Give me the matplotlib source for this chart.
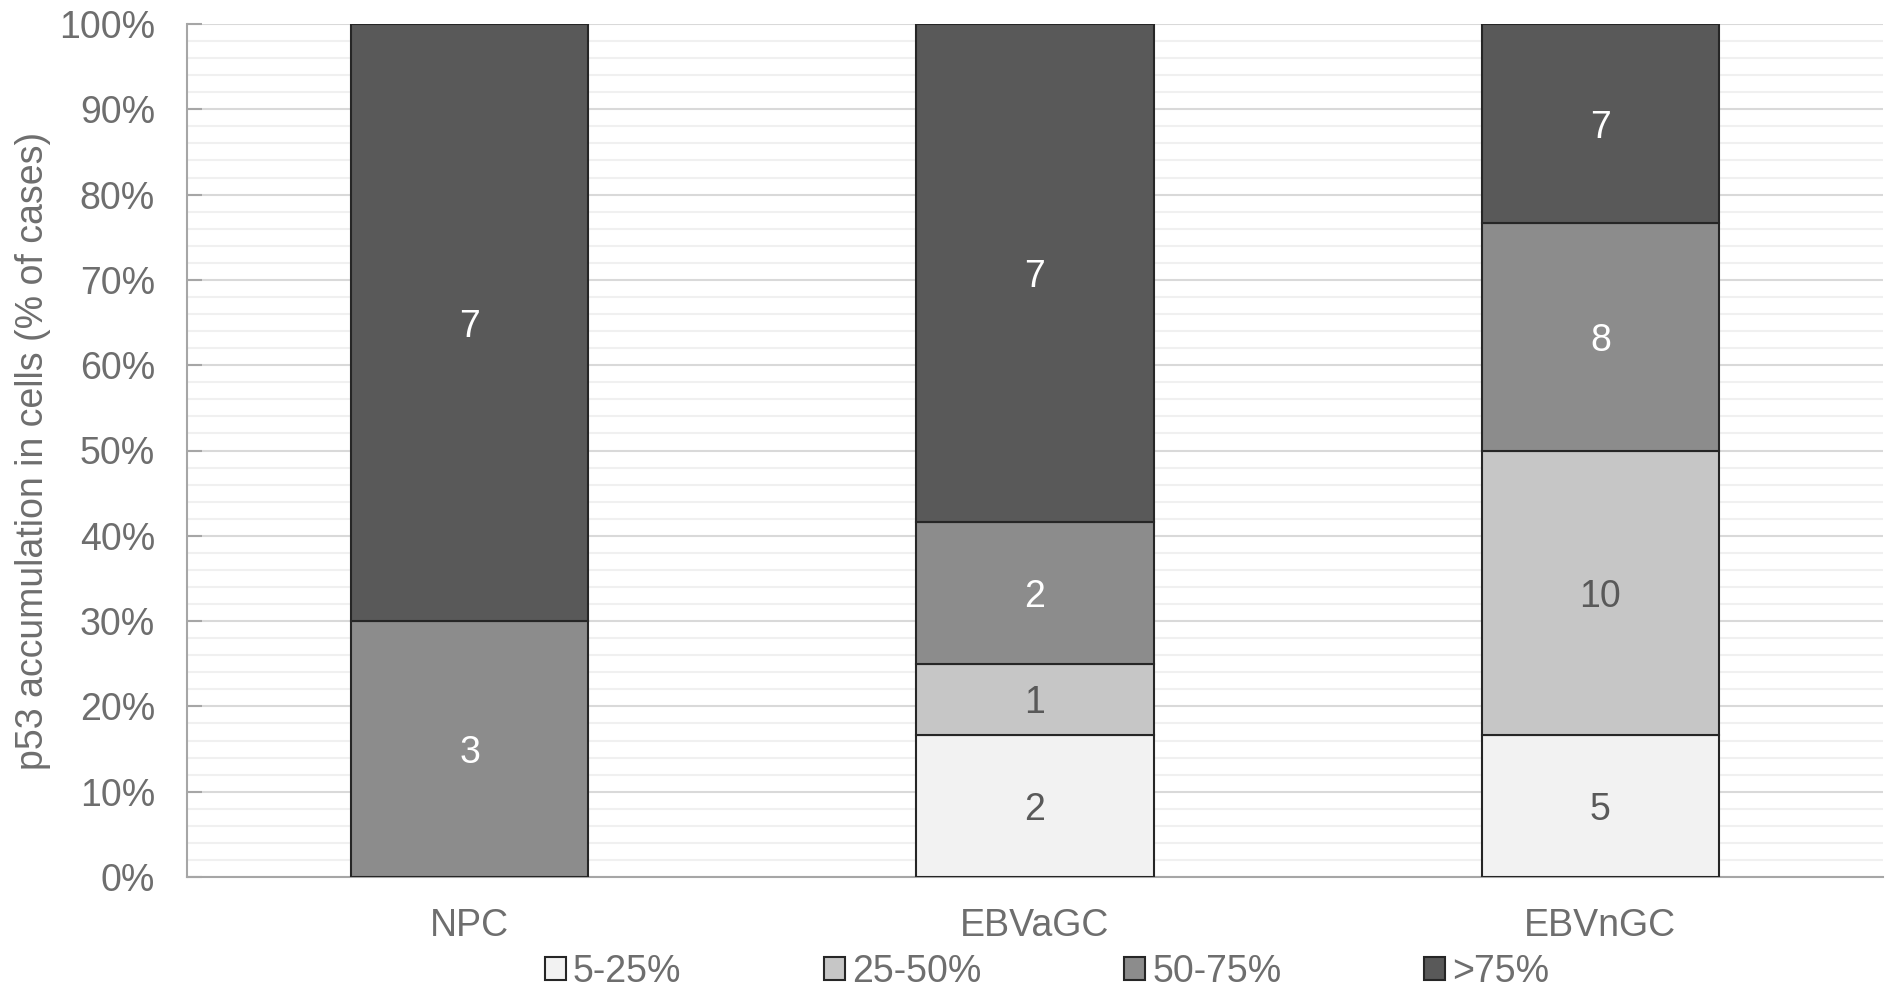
import matplotlib
matplotlib.use("Agg")
import matplotlib.pyplot as plt
from matplotlib.ticker import MultipleLocator, PercentFormatter
from matplotlib.patches import Patch
import numpy as np

plt.rcParams['font.family'] = ['Liberation Sans', 'DejaVu Sans']

categories = ["NPC", "EBVaGC", "EBVnGC"]
series_names = ["5-25%", "25-50%", "50-75%", ">75%"]
counts_5_25 = [0, 2, 5]
counts_25_50 = [0, 1, 10]
counts_50_75 = [3, 2, 8]
counts_gt75 = [7, 7, 7]

colors = ["#f2f2f2", "#c6c6c6", "#8c8c8c", "#595959"]
label_colors = ["#595959", "#595959", "white", "white"]
text_gray = "#6e6e6e"
fs = 27

counts = np.array([counts_5_25, counts_25_50, counts_50_75, counts_gt75], dtype=float)
totals = counts.sum(axis=0)
pct = counts / totals * 100

fig = plt.figure(figsize=(18.89, 9.91), dpi=100)
ax = fig.add_axes([187 / 1889, 1 - 877 / 991, 1696 / 1889, 853 / 991])

x = np.arange(len(categories))
bottom = np.zeros(len(categories))
for i, name in enumerate(series_names):
    vals = pct[i]
    ax.bar(x, vals, width=0.42, bottom=bottom, color=colors[i],
           edgecolor="#262626", linewidth=1.5, label=name, zorder=3)
    for j in range(len(categories)):
        if counts[i, j] > 0:
            ax.text(x[j], bottom[j] + vals[j] / 2, f"{int(counts[i, j])}",
                    ha="center", va="center_baseline", fontsize=fs,
                    color=label_colors[i], zorder=4)
    bottom += vals

ax.set_xlim(-0.5, len(categories) - 0.5)
ax.set_ylim(0, 100)
ax.yaxis.set_major_locator(MultipleLocator(10))
ax.yaxis.set_minor_locator(MultipleLocator(2))
ax.yaxis.set_major_formatter(PercentFormatter(decimals=0))
ax.grid(axis="y", which="major", color="#d9d9d9", linewidth=1.5, zorder=0)
ax.grid(axis="y", which="minor", color="#f0f0f0", linewidth=1.5, zorder=0)
ax.set_axisbelow(True)

ax.set_xticks(x)
ax.set_xticklabels(categories)
ax.tick_params(axis="x", length=0, pad=22, labelsize=fs, labelcolor=text_gray)
ax.tick_params(axis="y", which="major", direction="in", length=11, width=1.5,
               color="#a6a6a6", labelsize=fs, labelcolor=text_gray, pad=23)
ax.tick_params(axis="y", which="minor", length=0)

for side in ["top", "right"]:
    ax.spines[side].set_visible(False)
for side in ["left", "bottom"]:
    ax.spines[side].set_color("#a6a6a6")
    ax.spines[side].set_linewidth(1.5)

ax.set_ylabel("p53 accumulation in cells (% of cases)", fontsize=fs,
              color=text_gray, labelpad=6)

handles = [Patch(facecolor=c, edgecolor="#262626", linewidth=1.5) for c in colors]
fig.legend(handles, series_names, loc="center", ncol=4,
           bbox_to_anchor=(1047 / 1889, 1 - 972 / 991), frameon=False,
           fontsize=fs, labelcolor=text_gray, handlelength=0.55,
           handleheight=0.55, handletextpad=0.2, columnspacing=3.8,
           borderpad=0.0)

fig.savefig("out.png", dpi=100)
